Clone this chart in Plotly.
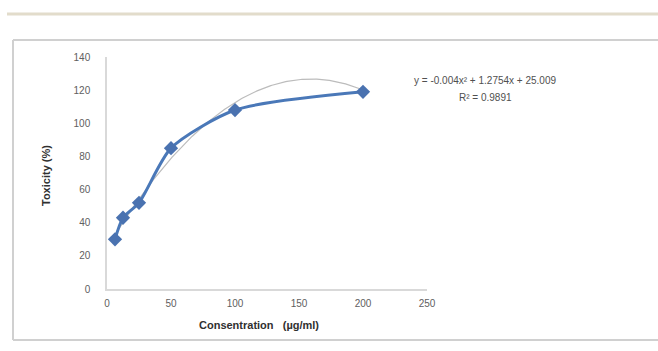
import numpy as np
import plotly.graph_objects as go

concentration = [6.25, 12.5, 25, 50, 100, 200]
toxicity = [30, 43, 52, 85, 108, 119]
trend_coeffs = [-0.004, 1.2754, 25.009]  # displayed polynomial trendline
r_squared = 0.9891
x_ticks = [0, 50, 100, 150, 200, 250]
y_ticks = [0, 20, 40, 60, 80, 100, 120, 140]

xt = np.linspace(min(concentration), max(concentration), 200)
yt = np.polyval(trend_coeffs, xt)

fig = go.Figure()
fig.add_trace(go.Scatter(x=xt, y=yt, mode="lines",
                         line=dict(color="#bcbcbc", width=1.2), hoverinfo="skip"))
fig.add_trace(go.Scatter(x=concentration, y=toxicity, mode="lines+markers",
                         line=dict(color="#4a78b8", width=3, shape="spline", smoothing=0.7),
                         marker=dict(symbol="diamond", size=11, color="#4a72b0")))

tick_font = dict(family="Liberation Sans, Arial", size=10, color="#606060")
fig.update_layout(
    width=658, height=351,
    margin=dict(l=107, r=231, t=57, b=62),
    paper_bgcolor="white", plot_bgcolor="white",
    showlegend=False,
    xaxis=dict(range=[0, 250], tickvals=x_ticks, showgrid=False, zeroline=False,
               showline=True, linecolor="#d9d9d9", linewidth=1.5,
               tickfont=tick_font, ticks="", ticklabelstandoff=4),
    yaxis=dict(range=[0, 140], tickvals=y_ticks, showgrid=False, zeroline=False,
               showline=True, linecolor="#d9d9d9", linewidth=1.5,
               tickfont=tick_font, ticks="", ticklabelstandoff=13),
)

def px_x(px):
    return (px - 107) / 320

def px_y(py):
    return (289 - py) / 232

ann_font = dict(family="Liberation Sans, Arial", size=10, color="#505050")
fig.add_annotation(xref="paper", yref="paper", x=px_x(485), y=px_y(80),
                   xanchor="center", yanchor="middle",
                   text=f"y = {trend_coeffs[0]}x² + {trend_coeffs[1]}x + {trend_coeffs[2]}",
                   showarrow=False, font=ann_font)
fig.add_annotation(xref="paper", yref="paper", x=px_x(485), y=px_y(97),
                   xanchor="center", yanchor="middle",
                   text=f"R² = {r_squared}", showarrow=False, font=ann_font)
title_font = dict(family="Liberation Sans, Arial", size=11, color="#303030", weight="bold")
fig.add_annotation(xref="paper", yref="paper", x=px_x(259), y=px_y(325),
                   xanchor="center", yanchor="middle",
                   text="Consentration   (µg/ml)", showarrow=False, font=title_font)
fig.add_annotation(xref="paper", yref="paper", x=px_x(46), y=px_y(176),
                   xanchor="center", yanchor="middle",
                   text="Toxicity (%)", showarrow=False, textangle=-90, font=title_font)

# decorative frame lines
fig.add_shape(type="line", xref="paper", yref="paper",
              x0=px_x(7), x1=px_x(658), y0=px_y(14), y1=px_y(14),
              line=dict(color="#e2dccb", width=3))
frame = dict(color="#d0d0d0", width=2)
fig.add_shape(type="line", xref="paper", yref="paper",
              x0=px_x(13), x1=px_x(658), y0=px_y(40), y1=px_y(40), line=frame)
fig.add_shape(type="line", xref="paper", yref="paper",
              x0=px_x(13), x1=px_x(658), y0=px_y(340), y1=px_y(340), line=frame)
fig.add_shape(type="line", xref="paper", yref="paper",
              x0=px_x(13), x1=px_x(13), y0=px_y(40), y1=px_y(340), line=frame)

fig.write_html("out.html", config={"displayModeBar": False},
               post_script="document.body.style.margin='0';document.body.style.overflow='hidden';")
